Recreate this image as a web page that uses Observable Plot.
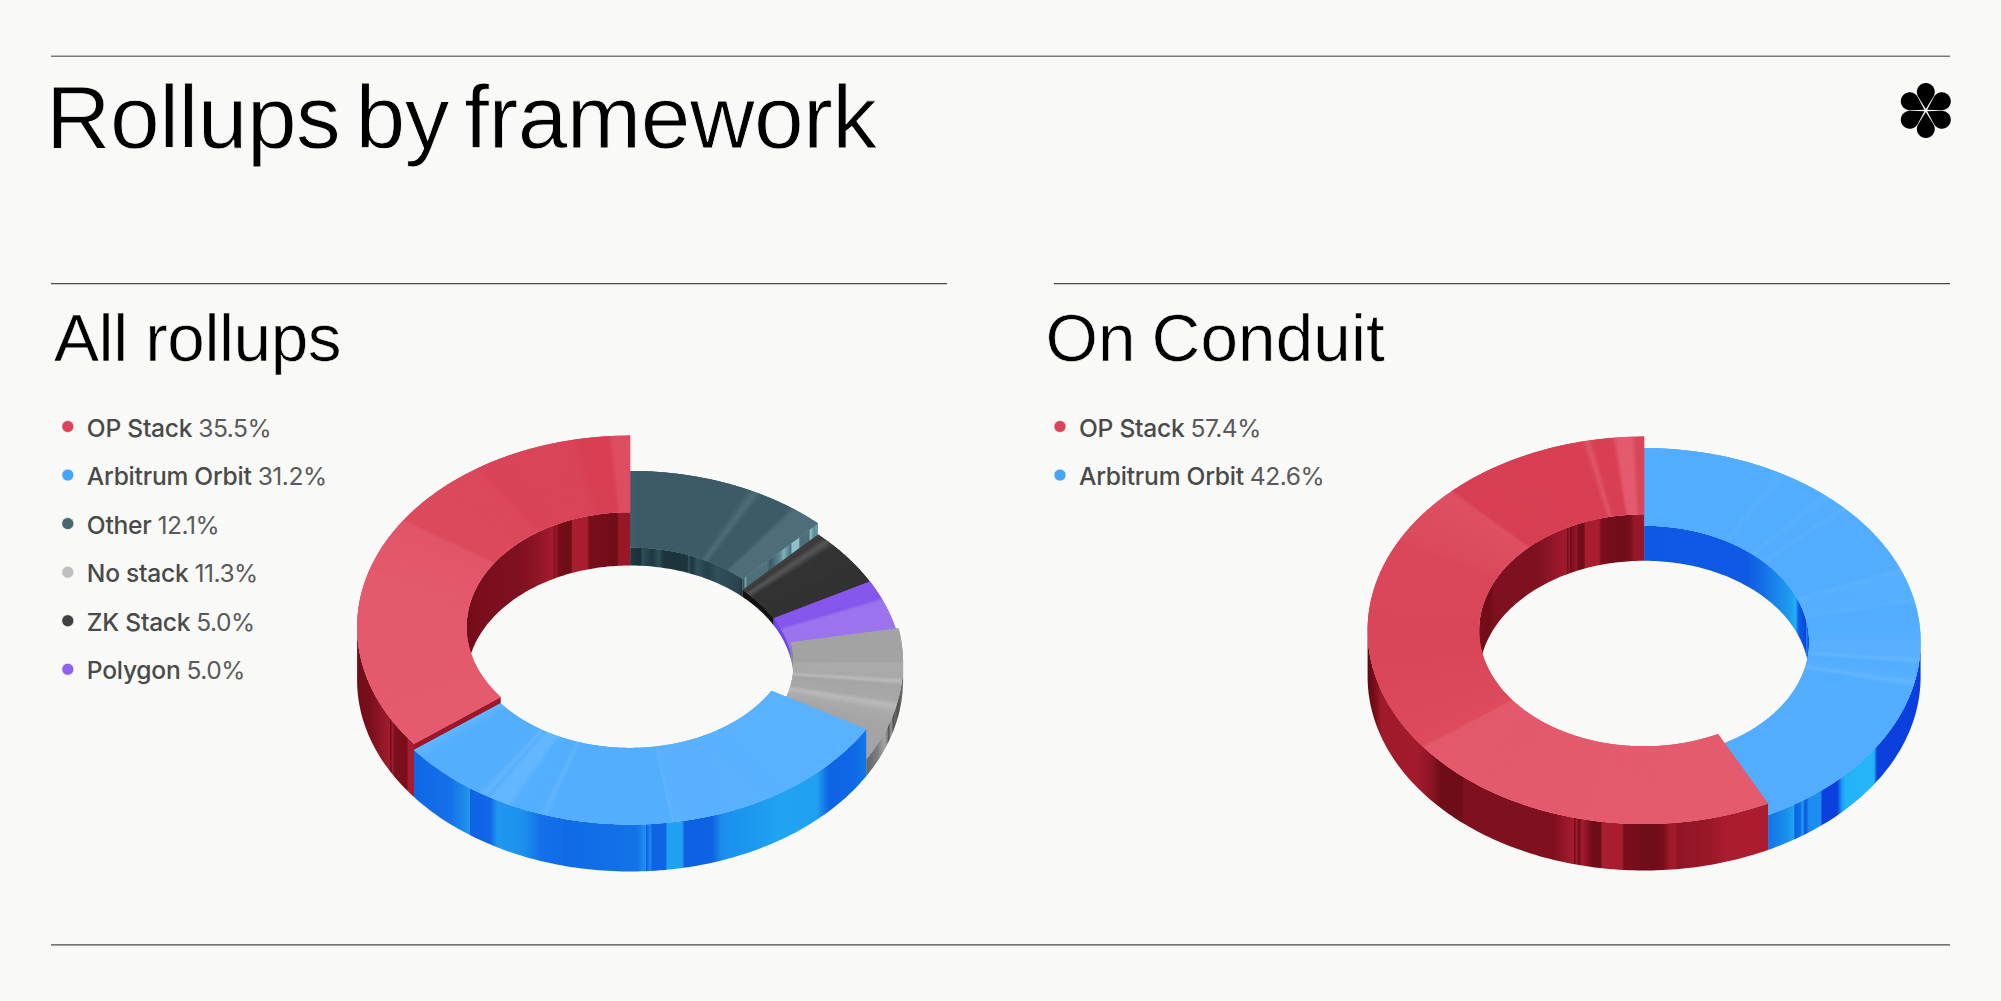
<!DOCTYPE html>
<html>
<head>
<meta charset="utf-8">
<script src="https://cdn.jsdelivr.net/npm/d3@7"></script>
<script src="https://cdn.jsdelivr.net/npm/@observablehq/plot@0.6"></script>
<style>
  html, body { margin: 0; padding: 0; background: #f9f9f7; }
  .title-text { letter-spacing: -0.55px; word-spacing: -9px; }
  .sub-text { letter-spacing: -0.4px; word-spacing: -1px; }
  .sub-text-b { letter-spacing: 0.1px; word-spacing: -3px; }
  .legend-text { letter-spacing: -0.25px; }
  .legend-pct { letter-spacing: -0.5px; }
</style>
</head>
<body>
<div id="chart"></div>
<script>
// ---------- values ----------
const allLegendLabels = ["OP Stack", "Arbitrum Orbit", "Other", "No stack", "ZK Stack", "Polygon"];
const allLegendValues = [35.5, 31.2, 12.1, 11.3, 5.0, 5.0];
const allLegendColors = ["#dc4459", "#45a5f9", "#45696f", "#bebebe", "#404040", "#9062ec"];
const conduitLegendLabels = ["OP Stack", "Arbitrum Orbit"];
const conduitLegendValues = [57.4, 42.6];
const conduitLegendColors = ["#dc4459", "#45a5f9"];

// Ring order, clockwise from twelve o'clock
const allRingOrder = ["Other", "ZK Stack", "Polygon", "No stack", "Arbitrum Orbit", "OP Stack"];
const conduitRingOrder = ["Arbitrum Orbit", "OP Stack"];

// ---------- 3D styling ----------
const allHeights = {"Other": 18, "ZK Stack": 7, "Polygon": 7.3, "No stack": 17, "Arbitrum Orbit": 47, "OP Stack": 53.3};
const conduitHeights = {"Arbitrum Orbit": 35, "OP Stack": 46.5};
const allGeom = {cx: 629.6, base: 679.7, rx: 273, ry: 191.3, rxIn: 163.5, ryIn: 114.7};
const conduitGeom = {cx: 1643.6, base: 676.3, rx: 276.5, ry: 193.7, rxIn: 165, ryIn: 116};

const allTop = {
  "Other": [[0,"#405f6b"],[3,"#3c5b67"],[25.5,"#3c5b67"],[27.5,"#4d6d79"],[29,"#3c5b67"],[36,"#3c5b67"],[37.5,"#4e6e7a"],[44,"#4e6e7a"]],
  "ZK Stack": [[43,"#444"],[45,"#3a3a3a"],[46.5,"#575757"],[48.5,"#333"],[62,"#323232"]],
  "Polygon": [[61,"#8657ec"],[67,"#8657ec"],[68,"#9b74ee"],[80,"#9b74ee"]],
  "No stack": [[79,"#a3a3a3"],[89.5,"#a3a3a3"],[90.5,"#ababab"],[94.5,"#a9a9a9"],[95.6,"#bcbcbc"],[96.6,"#a5a5a5"],[101.5,"#a8a8a8"],[103,"#bababa"],[105,"#acacac"],[109,"#a5a5a5"],[121,"#a3a3a3"]],
  "Arbitrum Orbit": [[120,"#5ab2ff"],[170.5,"#59b1ff"],[171,"#60b5ff"],[171.6,"#53aefe"],[197.5,"#53aefe"],[198.6,"#61b6ff"],[199.8,"#53aefe"],[205.5,"#54affe"],[207,"#63b7ff"],[210.5,"#63b7ff"],[211.5,"#57b0fe"],[212.6,"#63b7ff"],[214,"#54aefe"],[229,"#54aefe"],[232,"#5fb5ff"],[233,"#5fb5ff"]],
  "OP Stack": [[232,"#e55b6e"],[285,"#e4596c"],[303.5,"#e1556a"],[304.5,"#dc4a5d"],[325.5,"#dc495c"],[326.5,"#da4458"],[347.5,"#da4458"],[349,"#d83f53"],[355.5,"#d83f53"],[356.5,"#df4d60"],[360,"#df4d60"]]
};
const conduitTop = {
  "Arbitrum Orbit": [[0,"#53adff"],[28.5,"#53adff"],[30,"#58b0ff"],[31.5,"#53adff"],[40,"#53adff"],[41.3,"#59b1ff"],[42.6,"#53adff"],[45.5,"#53adff"],[46.6,"#5ab1ff"],[47.7,"#53adff"],[67.5,"#53adff"],[68.6,"#5db3ff"],[70,"#56afff"],[76.5,"#56afff"],[77.6,"#5cb2ff"],[79,"#53adff"],[89,"#55aeff"],[90,"#5bb1ff"],[94.5,"#59b0ff"],[95.7,"#64b7ff"],[97,"#53adff"],[101,"#56afff"],[102.5,"#63b6ff"],[104,"#53adff"],[154,"#53adff"]],
  "OP Stack": [[153,"#e55b6e"],[232.8,"#e4596c"],[233.6,"#dd4b5e"],[262,"#d94659"],[290,"#da475a"],[297.5,"#da475a"],[298.5,"#db4a5d"],[315.5,"#de5063"],[316.5,"#d83f53"],[347,"#d83f53"],[348.2,"#e05568"],[349.5,"#d83f53"],[353.5,"#d93f53"],[354.5,"#e35b6e"],[357.5,"#e35b6e"],[358.5,"#d94559"],[360,"#d94559"]]
};

const allFaces = {"Other": "otherFace", "ZK Stack": "#444", "Polygon": "#6a48ea", "No stack": "#777", "Arbitrum Orbit": "#1068e8", "OP Stack": "#9b1729"};
const conduitFaces = {"Arbitrum Orbit": "#1068e8", "OP Stack": "#9b1729"};

// wall stripes: screen x (3× crop coordinate from an origin) and colour
const wallStripes = {
  allRedOuter: {o: 350, s: [[15,"#6e0d18"],[60,"#7a0f1c"],[100,"#961828"],[118,"#a01c2e"],[120,"#6f0c18"],[126,"#a01c2e"],[132,"#7a1020"],[150,"#7a0e1b"],[170,"#7a0e1b"],[172,"#a61d30"],[192,"#a61d30"]]},
  allRedInner: {o: 450, s: [[47,"#6e0d18"],[80,"#7a0e1b"],[200,"#7e1020"],[260,"#8e1525"],[300,"#a01a2c"],[308,"#a51c2e"],[310,"#7a0e1b"],[318,"#a01a2c"],[322,"#7a0e1b"],[340,"#6e0d18"],[362,"#6e0d18"],[366,"#a91d30"],[410,"#a91d30"],[416,"#7a0e1b"],[500,"#6e0d18"],[505,"#981728"],[540,"#981728"]]},
  allOtherInner: {o: 450, s: [[538,"#1e3a42"],[570,"#1a3038"],[575,"#2e4e58"],[605,"#1f3840"],[625,"#2e5058"],[640,"#1c343c"],[710,"#1c343c"],[714,"#2e4e58"],[725,"#1c343c"],[740,"#30535d"],[770,"#244049"],[800,"#30505a"],[860,"#2a4650"],[880,"#1c343c"]]},
  allNoOuter: {o: 720, s: [[438,"#666"],[470,"#7c7c7c"],[492,"#a5a5a5"],[500,"#888"],[504,"#555"],[512,"#9a9a9a"],[518,"#555"],[526,"#666"],[532,"#4d4d4d"],[548,"#777"]]},
  allBlueOuter: {o: 350, s: [[190,"#0f66e6"],[300,"#1471e8"],[345,"#1f8cec"],[358,"#1f9bef"],[360,"#0f62e5"],[420,"#1068e8"],[440,"#1e98ef"],[520,"#1c90ec"],[570,"#1270e8"],[630,"#106ce8"],[640,"#106ae6"],[860,"#1373e8"],[885,"#1e92ee"],[888,"#0f60e4"],[900,"#1d8cee"],[904,"#0f64e6"],[945,"#0f64e6"],[950,"#20a0f0"],[995,"#20a0f0"],[1002,"#0f60e4"],[1085,"#0f62e4"],[1110,"#1a88ea"],[1120,"#1a90ee"],[1200,"#1c98ee"],[1290,"#20a4f2"],[1400,"#1fa0f0"],[1435,"#0f64e6"],[1500,"#0f66e6"],[1552,"#0f7aea"]]},
  conduitRedOuter: {o: 1360, s: [[20,"#5c0a14"],[45,"#7a0e1b"],[62,"#a01a2c"],[170,"#a21b2d"],[210,"#8e1525"],[240,"#6e0d18"],[305,"#6e0d18"],[310,"#7e1020"],[580,"#7e1020"],[625,"#a01a2c"],[640,"#a51c2e"],[642,"#6e0d18"],[648,"#a01a2c"],[655,"#6e0d18"],[665,"#a51c2e"],[680,"#8a1424"],[695,"#6e0d18"],[720,"#6e0d18"],[725,"#a91d30"],[785,"#a91d30"],[790,"#7a0e1b"],[880,"#6e0d18"],[910,"#7a0e1b"],[930,"#a11a2c"],[945,"#a01a2c"],[950,"#8e1525"],[1050,"#9b1829"],[1100,"#ab1c2f"],[1216,"#ab1c2f"]]},
  conduitRedInner: {o: 1470, s: [[22,"#7a0e1b"],[60,"#6e0d18"],[70,"#7e1020"],[200,"#7e1020"],[280,"#a01a2c"],[288,"#a01a2c"],[290,"#6e0d18"],[298,"#a01a2c"],[300,"#6e0d18"],[318,"#9a1729"],[322,"#6e0d18"],[340,"#6e0d18"],[345,"#a91d30"],[385,"#a91d30"],[392,"#7a0e1b"],[460,"#6e0d18"],[480,"#7a0e1b"],[490,"#981728"],[522,"#981728"]]},
  conduitBlueOuter: {o: 1360, s: [[1214,"#116fe8"],[1280,"#1a90ee"],[1300,"#1fa4f3"],[1303,"#0f60e4"],[1320,"#1070e8"],[1325,"#1ea0f2"],[1335,"#0d55e2"],[1345,"#1a8cf0"],[1380,"#1c90f0"],[1385,"#0a40dd"],[1430,"#0a40dd"],[1445,"#1c9df4"],[1455,"#22b2f6"],[1540,"#26b6f8"],[1550,"#0a40dd"],[1680,"#0a3fdd"]]},
  conduitBlueInner: {o: 1470, s: [[521,"#0f58e4"],[830,"#0f5ae4"],[880,"#1470e8"],[920,"#1a88ec"],[960,"#1e9cf0"],[975,"#22b0f4"],[985,"#0f58e4"],[1005,"#0a48e0"],[1007,"#1a88ec"],[1015,"#0a48e0"]]},
  otherFace: {o: 450, s: [[878,"#2a4650"],[885,"#7aa0aa"],[890,"#4e6e7a"],[950,"#50707c"],[960,"#3c5b67"],[990,"#5e8c96"],[1000,"#7fb0b8"],[1020,"#4e7480"],[1025,"#8dc0c8"],[1045,"#8dc0c8"],[1048,"#4e6e7a"],[1075,"#4e6e7a"],[1080,"#8dbec6"],[1090,"#5e8c96"],[1103,"#6ea0aa"]]}
};
const allWalls = {
  "Other": {inner: "allOtherInner"},
  "ZK Stack": {inner: "#121212"},
  "Polygon": {inner: "#6a48ea"},
  "No stack": {inner: "#8a8a8a", outer: "allNoOuter"},
  "Arbitrum Orbit": {outer: "allBlueOuter"},
  "OP Stack": {inner: "allRedInner", outer: "allRedOuter"}
};
const conduitWalls = {
  "Arbitrum Orbit": {inner: "conduitBlueInner", outer: "conduitBlueOuter"},
  "OP Stack": {inner: "conduitRedInner", outer: "conduitRedOuter"}
};

// ---------- geometry helpers ----------
const rad = (a) => a * Math.PI / 180;
const pt = (g, cy, rx, ry, a) => ({x: g.cx + rx * Math.sin(rad(a)), y: cy - ry * Math.cos(rad(a))});
const arc = (g, cy, rx, ry, a0, a1) => {
  const n = Math.max(1, Math.ceil(Math.abs(a1 - a0)));
  return d3.range(n + 1).map((i) => pt(g, cy, rx, ry, a0 + (a1 - a0) * i / n));
};
const paint = (v) => v in wallStripes ? `url(#${v})` : v;
const shade = (stops, a) => {
  const i = Math.min(stops.length - 2, Math.max(0, d3.bisector((s) => s[0]).right(stops, a) - 1));
  const t = Math.max(0, Math.min(1, (a - stops[i][0]) / (stops[i + 1][0] - stops[i][0])));
  return d3.interpolateRgb(stops[i][1], stops[i + 1][1])(t);
};

function donut(order, labels, values, heights, geom, top, walls, faces) {
  const total = d3.sum(values);
  const share = new Map(labels.map((l, i) => [l, values[i]]));
  let cum = 0;
  const slices = order.map((label) => {
    const a0 = cum / total * 360; cum += share.get(label);
    const a1 = cum / total * 360;
    return {label, a0, a1, mid: (a0 + a1) / 2, h: heights[label]};
  }).sort((p, q) => Math.cos(rad(q.mid)) - Math.cos(rad(p.mid)));

  const rows = [];
  let uid = 0;
  const add = (pts, fill) => { const z = `${geom.cx}-${uid++}`; for (const p of pts) rows.push({x: p.x, y: p.y, z, fill}); };

  for (const s of slices) {
    const cy = geom.base - s.h;
    const wall = (rx, ry, from, to, style) => {
      const lo = Math.max(s.a0, from), hi = Math.min(s.a1, to);
      if (hi <= lo || !style) return;
      add([...arc(geom, cy, rx, ry, lo, hi), ...arc(geom, geom.base, rx, ry, hi, lo)], paint(style));
    };
    wall(geom.rxIn, geom.ryIn, 0, 90, walls[s.label].inner);
    wall(geom.rxIn, geom.ryIn, 270, 360, walls[s.label].inner);
    const face = (a) => add([pt(geom, cy, geom.rx, geom.ry, a), pt(geom, cy, geom.rxIn, geom.ryIn, a), pt(geom, geom.base, geom.rxIn, geom.ryIn, a), pt(geom, geom.base, geom.rx, geom.ry, a)], paint(faces[s.label]));
    if (Math.sin(rad(s.a0)) < -1e-6) face(s.a0);
    if (Math.sin(rad(s.a1)) > 1e-6) face(s.a1);
    wall(geom.rx, geom.ry, 90, 270, walls[s.label].outer);

    add([...arc(geom, cy, geom.rx, geom.ry, s.a0, s.a1), ...arc(geom, cy, geom.rxIn, geom.ryIn, s.a1, s.a0)], shade(top[s.label], s.a0));
    for (let a = s.a0; a < s.a1; a += 0.5) {
      const b = Math.min(a + 0.8, s.a1);
      add([pt(geom, cy, geom.rx, geom.ry, a), pt(geom, cy, geom.rx, geom.ry, b), pt(geom, cy, geom.rxIn, geom.ryIn, b), pt(geom, cy, geom.rxIn, geom.ryIn, a)], shade(top[s.label], (a + b) / 2));
    }
  }
  return rows;
}

// gradient definitions
const defs = d3.create("svg:defs");
for (const [id, {o, s}] of Object.entries(wallStripes)) {
  const xs = s.map((d) => o + d[0] / 3);
  const g = defs.append("linearGradient").attr("id", id).attr("gradientUnits", "userSpaceOnUse")
    .attr("x1", xs[0]).attr("x2", xs[xs.length - 1]).attr("y1", 0).attr("y2", 0);
  s.forEach((d, i) => g.append("stop").attr("offset", (xs[i] - xs[0]) / (xs[xs.length - 1] - xs[0])).attr("stop-color", d[1]));
}

// logo: six teardrops around a centre
const logoCentre = {x: 1925.3, y: 110};
const logoRows = d3.range(6).flatMap((k) => {
  const dir = rad(k * 60), c = 18.5, r = 8.95, t = 1.6;
  const phi = Math.acos(r / (c - t));
  const local = [[t, 0], ...d3.range(41).map((i) => {
    const b = phi + (2 * Math.PI - 2 * phi) * i / 40;
    return [c - r * Math.cos(b), r * Math.sin(b)];
  })];
  return local.map(([u, v]) => ({
    x: logoCentre.x + u * Math.sin(dir) + v * Math.cos(dir),
    y: logoCentre.y - u * Math.cos(dir) + v * Math.sin(dir),
    z: `logo${k}`
  }));
});

// rules
const rules = [
  {x1: 51, x2: 1950, y: 55.7, w: 1.5, c: "#7a7a7a"},
  {x1: 51, x2: 947, y: 283.2, w: 1.2, c: "#4a4a4a"},
  {x1: 1054, x2: 1950, y: 283.2, w: 1.2, c: "#4a4a4a"},
  {x1: 51, x2: 1950, y: 944.3, w: 1.2, c: "#4a4a4a"}
];

// legend
const legendFont = "Inter";
const legendSize = 24.6;
const ctx = document.createElement("canvas").getContext("2d");
const measure = (t, w) => { ctx.font = `${w} ${legendSize}px ${legendFont}`; return ctx.measureText(t).width - 0.25 * t.length; };
const legendRows = (labels, values, colors, dotX) => labels.map((label, i) => ({
  label, pct: values[i].toFixed(1) + "%", color: colors[i], dotX,
  tx: dotX + 19, y: 426 + i * 48.55,
  px: dotX + 19 + measure(label, 500) + 6
}));
const legend = [
  ...legendRows(allLegendLabels, allLegendValues, allLegendColors, 67.3),
  ...legendRows(conduitLegendLabels, conduitLegendValues, conduitLegendColors, 1059.5)
];

const titles = [{t: "Rollups by framework", x: 45.5, y: 147.3}];
const subtitleAll = [{t: "All rollups", x: 53.5, y: 360}];
const subtitleConduit = [{t: "On Conduit", x: 1045, y: 360}];

const pieces = [
  ...donut(allRingOrder, allLegendLabels, allLegendValues, allHeights, allGeom, allTop, allWalls, allFaces),
  ...donut(conduitRingOrder, conduitLegendLabels, conduitLegendValues, conduitHeights, conduitGeom, conduitTop, conduitWalls, conduitFaces)
];

const bigText = {x: "x", y: "y", text: "t", textAnchor: "start", lineAnchor: "bottom", fontFamily: "Liberation Sans", fontWeight: 400, fill: "#000", stroke: "#f9f9f7", paintOrder: "normal"};

const chart = Plot.plot({
  width: 2001, height: 1001, margin: 0,
  style: {background: "#f9f9f7"},
  x: {domain: [0, 2001], range: [0, 2001], axis: null},
  y: {domain: [0, 1001], range: [0, 1001], axis: null},
  color: {type: "identity"},
  marks: [
    () => defs.node(),
    Plot.ruleY(rules, {x1: "x1", x2: "x2", y: "y", stroke: "c", strokeWidth: "w"}),
    Plot.line(pieces, {x: "x", y: "y", z: "z", fill: "fill", stroke: "none", curve: "linear"}),
    Plot.line(logoRows, {x: "x", y: "y", z: "z", fill: "#000", stroke: "none"}),
    Plot.text(titles, {...bigText, fontSize: 89.4, strokeWidth: 0.9, className: "title-text"}),
    Plot.text(subtitleAll, {...bigText, fontSize: 67.5, strokeWidth: 0.6, className: "sub-text"}),
    Plot.text(subtitleConduit, {...bigText, fontSize: 67.5, strokeWidth: 0.6, className: "sub-text-b"}),
    Plot.dot(legend, {x: "dotX", y: "y", r: 6, fill: "color", stroke: "#ffffff", strokeOpacity: 0.6, strokeWidth: 1}),
    Plot.text(legend, {x: "tx", y: (d) => d.y + 10, text: "label", textAnchor: "start", lineAnchor: "bottom", fontFamily: legendFont, fontWeight: 500, fontSize: legendSize, fill: "#4a4a4a", className: "legend-text"}),
    Plot.text(legend, {x: "px", y: (d) => d.y + 10, text: "pct", textAnchor: "start", lineAnchor: "bottom", fontFamily: legendFont, fontWeight: 400, fontSize: legendSize, fill: "#5a5a5a", className: "legend-pct"})
  ]
});
document.getElementById("chart").appendChild(chart);
</script>
</body>
</html>
